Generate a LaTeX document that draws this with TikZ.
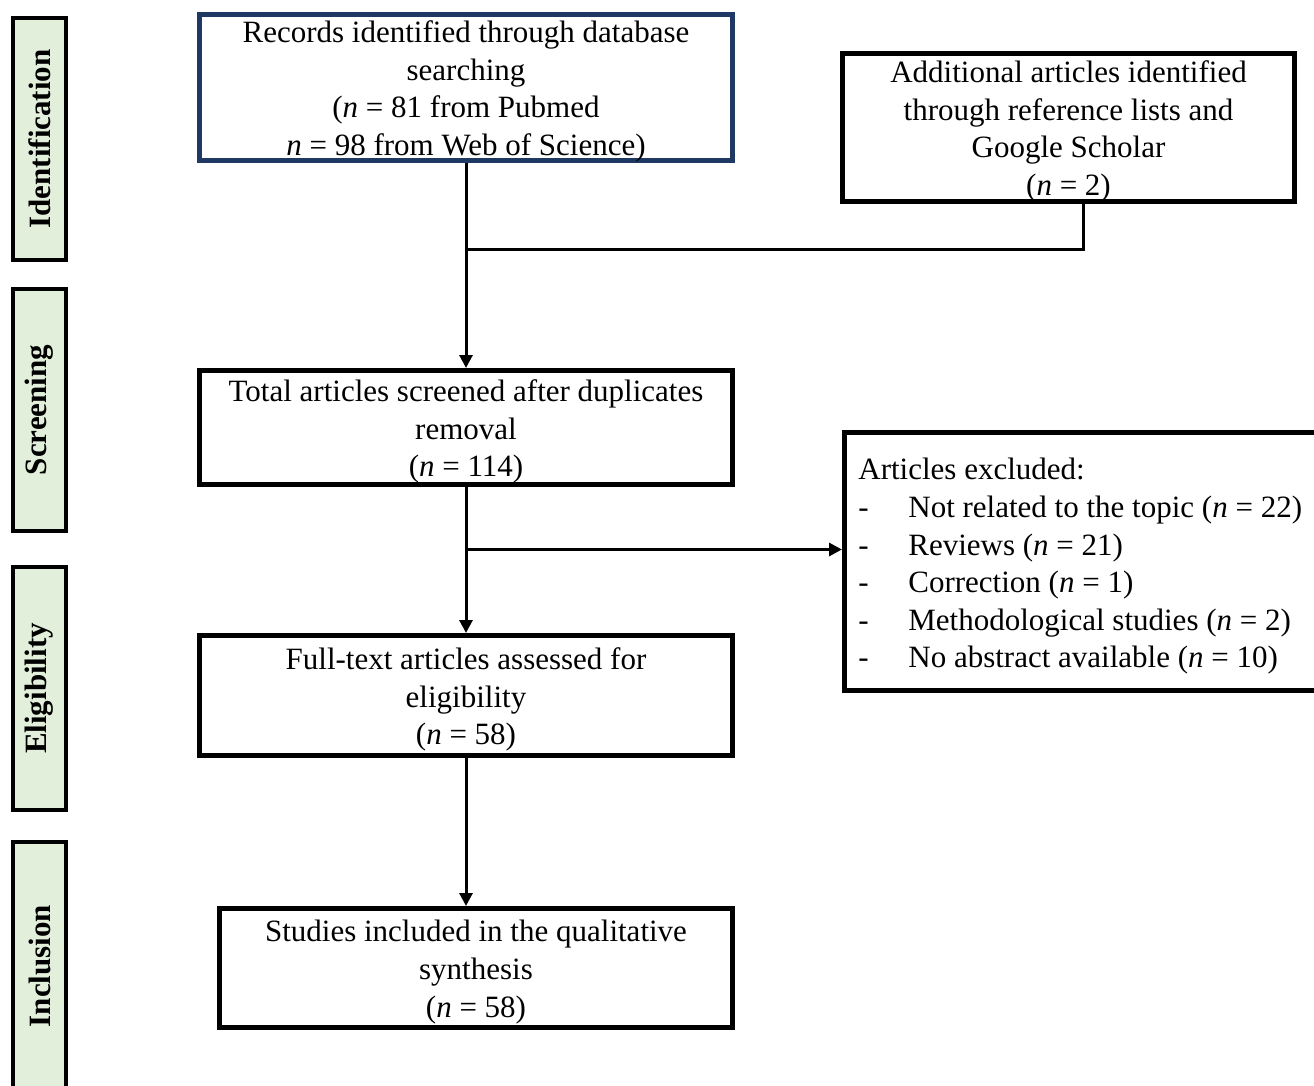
\documentclass[tikz,border=0pt]{standalone}
\usepackage{fontspec}
\setmainfont{Liberation Serif}
\usetikzlibrary{arrows.meta}
\definecolor{navy}{HTML}{1F3864}
\definecolor{lbl}{HTML}{E2EFDA}
\begin{document}
\begin{tikzpicture}[x=0.5pt,y=-0.5pt,
  txt/.style={font=\fontsize{15.5}{18.8}\selectfont, inner sep=0pt},
  boxtext/.style={txt, align=center, yshift=-2pt},
  box/.style={draw=black, line width=2.5pt, inner sep=0pt},
  side/.style={txt, draw=black, fill=lbl, line width=2pt, rotate=90, inner sep=0pt,
    font=\fontsize{15.5}{18.8}\selectfont\bfseries, minimum height=26.5pt},
  conn/.style={line width=1.5pt},
  arr/.style={conn, -{Triangle[width=6.5pt,length=6.5pt]}}]
\clip (0,0) rectangle (1314,1086);
\fill[white] (0,0) rectangle (1314,1086);

% side labels
\node[side, minimum width=121pt] (sid) at (39.5,139) {Identification};
\node[side, minimum width=121pt] (ssc) at (39.5,410) {Screening};
\node[side, minimum width=121.5pt] (sel) at (39.5,688.5) {Eligibility};
\node[side, minimum width=124pt] (sin) at (39.5,966) {Inclusion};

% boxes
\node[box, draw=navy, minimum width=266.5pt, minimum height=73pt] (A) at (466,87.5) {};
\node[boxtext] (At) at (A) {Records identified through database\\ searching\\ (\textit{n} = 81 from Pubmed\\ \textit{n} = 98 from Web of Science)};

\node[box, minimum width=226pt, minimum height=74pt] (B) at (1068.5,127.5) {};
\node[boxtext] (Bt) at (B) {Additional articles identified\\ through reference lists and\\ Google Scholar\\ (\textit{n} = 2)};

\node[box, minimum width=266.5pt, minimum height=57pt] (C) at (466,427.5) {};
\node[boxtext] (Ct) at (C) {Total articles screened after duplicates\\ removal\\ (\textit{n} = 114)};

\node[box, minimum width=266.5pt, minimum height=60pt] (D) at (466,695.5) {};
\node[boxtext] (Dt) at (D) {Full-text articles assessed for\\ eligibility\\ (\textit{n} = 58)};

\node[box, minimum width=256.5pt, minimum height=59.5pt] (F) at (476,968) {};
\node[boxtext] (Ft) at (F) {Studies included in the qualitative\\ synthesis\\ (\textit{n} = 58)};

\node[box, minimum width=242.75pt, minimum height=129pt] (E) at (1087.25,561.5) {};
\node[txt, align=left, anchor=west] (Et) at (858,566.5)
  {Articles excluded:\\
   \makebox[25pt][l]{-}Not related to the topic (\textit{n} = 22)\\
   \makebox[25pt][l]{-}Reviews (\textit{n} = 21)\\
   \makebox[25pt][l]{-}Correction (\textit{n} = 1)\\
   \makebox[25pt][l]{-}Methodological studies (\textit{n} = 2)\\
   \makebox[25pt][l]{-}No abstract available (\textit{n} = 10)};

% connectors
\coordinate (J1) at (466,250);
\coordinate (Bf) at (1083,250);
\coordinate (J2) at (466,549.5);
\draw[arr] (A) -- (C);
\draw[conn] (B.south -| Bf) -- (Bf) -- (J1);
\draw[arr] (C) -- (D);
\draw[arr] (J2) -- (J2 -| E.west);
\draw[arr] (D.south) -- (D.south |- F.north);
\end{tikzpicture}
\end{document}
